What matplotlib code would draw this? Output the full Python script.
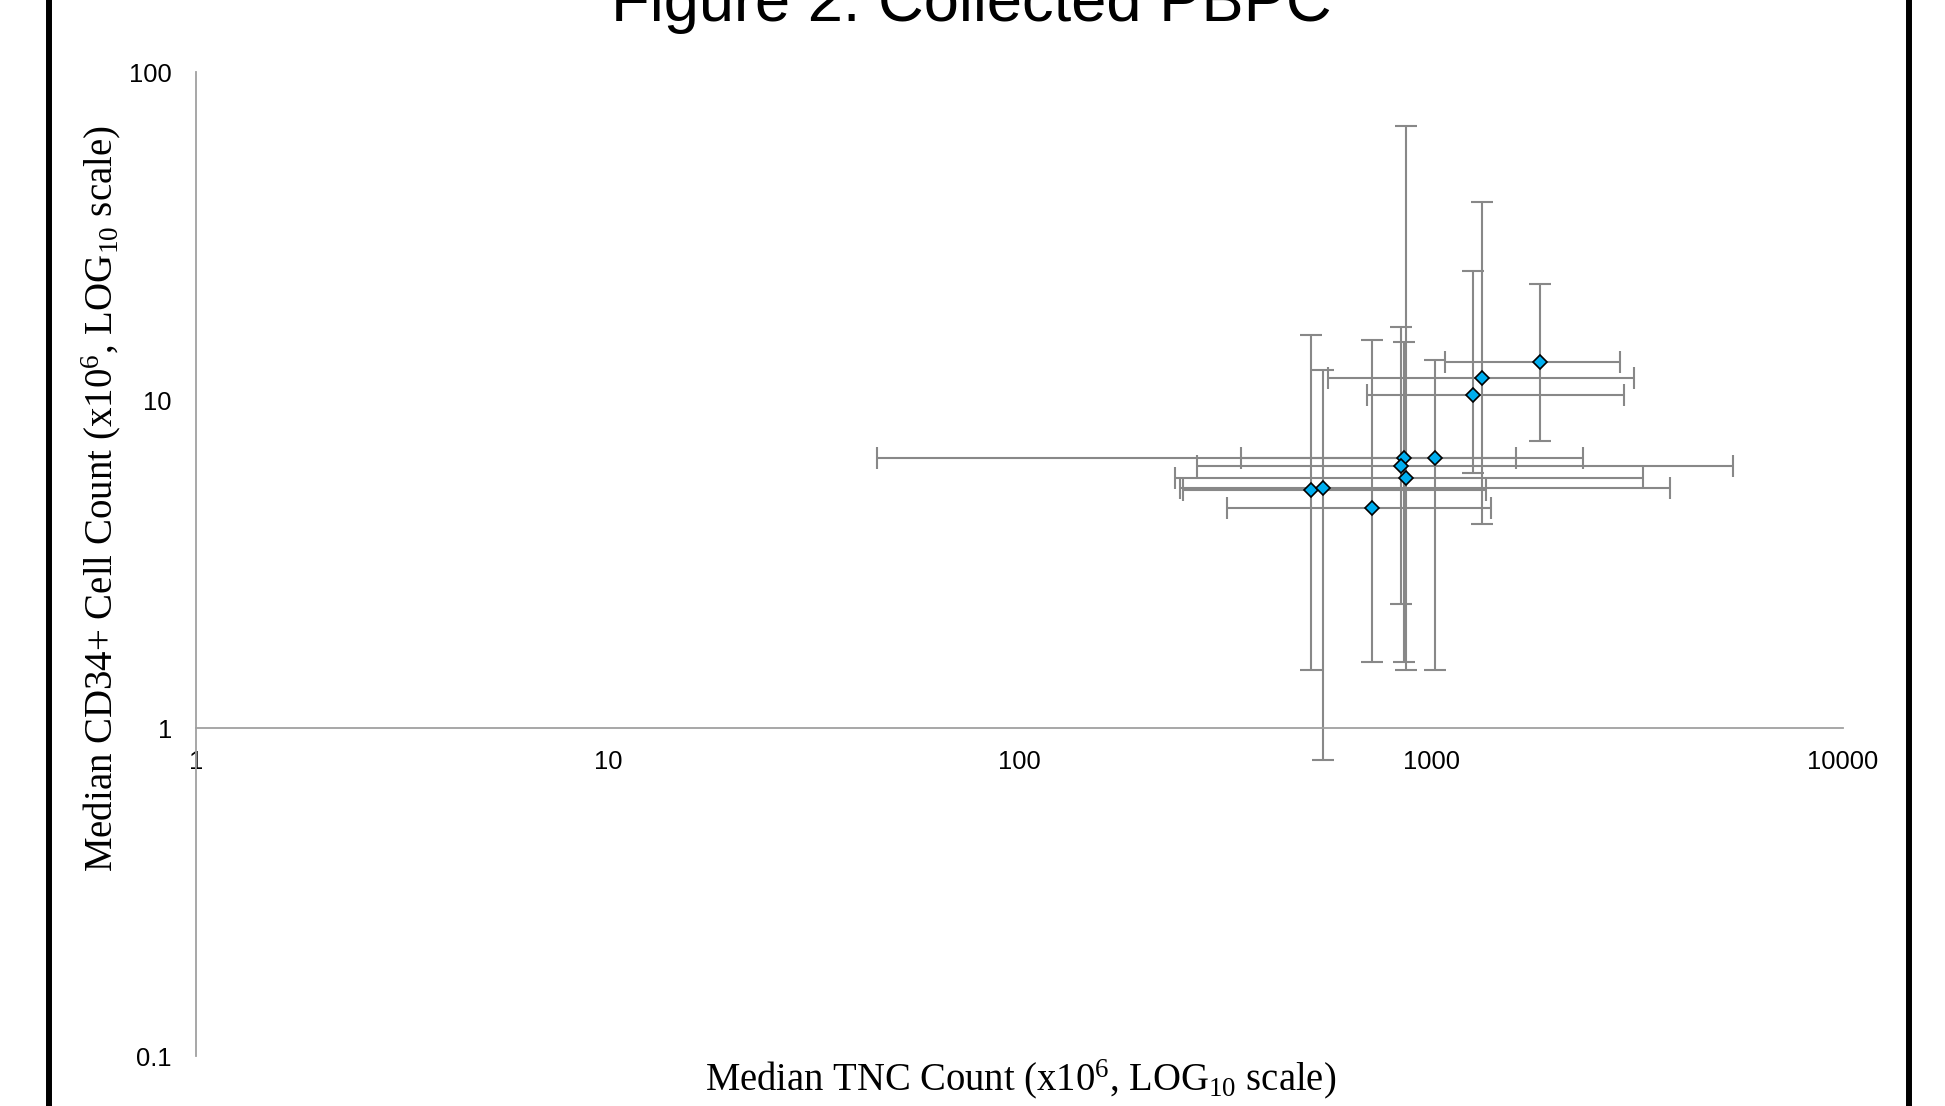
import matplotlib
matplotlib.use("Agg")
import matplotlib.pyplot as plt
from matplotlib.lines import Line2D
from matplotlib.ticker import NullLocator

# median TNC count (x axis) with its range
tnc_median = [1836, 1331, 1265, 1021, 857, 846, 866, 511, 547, 719]
tnc_low = [1077, 561, 698, 345, 45, 269, 239, 250, 245, 319]
tnc_high = [2871, 3105, 2944, 1606, 2333, 5395, 3266, 1355, 3808, 1396]

# median CD34+ count (y axis) with its range
cd34_median = [13.1, 11.7, 10.4, 6.70, 6.70, 6.30, 5.80, 5.33, 5.41, 4.70]
cd34_low = [7.51, 4.20, 6.03, 1.51, 1.60, 2.40, 1.51, 1.51, 0.80, 1.60]
cd34_high = [22.6, 40.2, 24.8, 13.3, 15.1, 16.7, 68.7, 15.8, 12.4, 15.3]

x_ticks = [1, 10, 100, 1000, 10000]
x_tick_labels = ["1", "10", "100", "1000", "10000"]
y_ticks = [0.1, 1, 10, 100]
y_tick_labels = ["0.1", "1", "10", "100"]

plt.rcParams['font.family'] = ['Liberation Sans', 'DejaVu Sans']
plt.rcParams['mathtext.fontset'] = 'custom'
plt.rcParams['mathtext.rm'] = 'Liberation Serif'
plt.rcParams['mathtext.it'] = 'Liberation Serif:italic'
plt.rcParams['mathtext.bf'] = 'Liberation Serif:bold'

fig = plt.figure(figsize=(19.45, 11.06), dpi=100)
ax = fig.add_axes([0.1008, 0.04476, 0.8468, 0.8897])

xerr = [[m - lo for m, lo in zip(tnc_median, tnc_low)],
        [hi - m for m, hi in zip(tnc_median, tnc_high)]]
yerr = [[m - lo for m, lo in zip(cd34_median, cd34_low)],
        [hi - m for m, hi in zip(cd34_median, cd34_high)]]

ax.errorbar(tnc_median, cd34_median, xerr=xerr, yerr=yerr, fmt='none',
            ecolor='#888888', elinewidth=1.5, capsize=8, capthick=1.5, zorder=2)
ax.plot(tnc_median, cd34_median, linestyle='none', marker='D', markersize=7.5,
        markerfacecolor='#00AEEF', markeredgecolor='black', markeredgewidth=1.2,
        zorder=3)

ax.set_xscale('log')
ax.set_yscale('log')
ax.set_xlim(1, 10000)
ax.set_ylim(0.1, 100)
ax.set_xticks(x_ticks)
ax.set_xticklabels(x_tick_labels)
ax.set_yticks(y_ticks)
ax.set_yticklabels(y_tick_labels)
ax.xaxis.set_minor_locator(NullLocator())
ax.yaxis.set_minor_locator(NullLocator())
ax.tick_params(axis='x', length=0, pad=15.5, labelsize=18.4, labelcolor='black')
ax.tick_params(axis='y', length=0, pad=17.4, labelsize=18.4, labelcolor='black')

for s in ['top', 'right']:
    ax.spines[s].set_visible(False)
ax.spines['bottom'].set_position(('data', 1))
ax.spines['bottom'].set_color('#A0A0A0')
ax.spines['left'].set_color('#A0A0A0')
ax.spines['bottom'].set_linewidth(1.3)
ax.spines['left'].set_linewidth(1.3)

# axis titles in Times-like serif
fig.text(0.5245, 1 - 1090 / 1106, r'Median TNC Count (x10$^{\mathrm{6}}$, LOG$_{\mathrm{10}}$ scale)',
         ha='center', va='baseline', fontsize=27.8, family='Liberation Serif')
fig.text(101 / 1945, 1 - 499 / 1106, r'Median CD34+ Cell Count (x10$^{\mathrm{6}}$, LOG$_{\mathrm{10}}$ scale)',
         ha='center', va='center', rotation=90, fontsize=28, family='Liberation Serif')

# title, cut off by the top edge like the original
fig.text(0.4995, 1 - 21 / 1106, 'Figure 2. Collected PBPC', ha='center', va='baseline',
         fontsize=45.5)

# black frame on the sides
for xf in [48.8 / 1945, 1909 / 1945]:
    fig.add_artist(Line2D([xf, xf], [0, 1], transform=fig.transFigure,
                          color='black', linewidth=4.3))

fig.savefig('out.png', dpi=100)
